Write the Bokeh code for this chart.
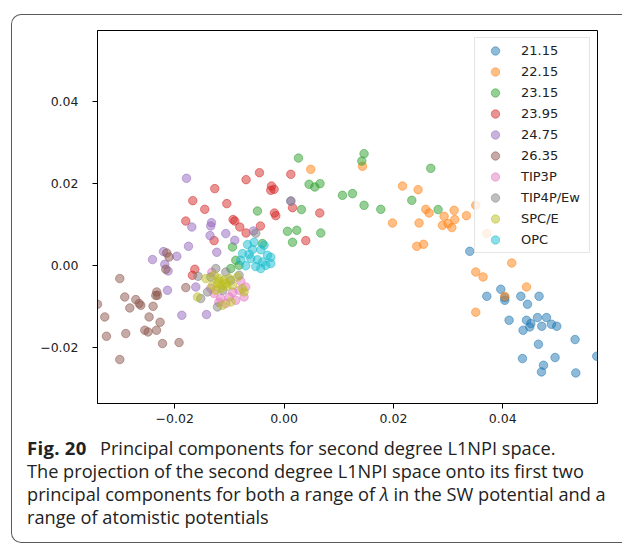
from bokeh.plotting import figure
from bokeh.layouts import column
from bokeh.models import Range1d, FixedTicker, CustomJSTickFormatter, Div, InlineStyleSheet
from bokeh.embed import file_html
from bokeh.resources import INLINE

# ---------------- data (PC1, PC2) ----------------
series_names = ["21.15", "22.15", "23.15", "23.95", "24.75", "26.35",
                "TIP3P", "TIP4P/Ew", "SPC/E", "OPC"]
colors = ["#1f77b4", "#ff7f0e", "#2ca02c", "#d62728", "#9467bd",
          "#8c564b", "#e377c2", "#7f7f7f", "#bcbd22", "#17becf"]

x_2115 = [0.03397, 0.03964, 0.03708, 0.04037, 0.04037, 0.04330, 0.04664, 0.04452, 0.04116,
          0.04434, 0.04635, 0.04800, 0.04513, 0.04494, 0.04714, 0.04891, 0.04988, 0.04372,
          0.05323, 0.04653, 0.05720, 0.04361, 0.04957, 0.04745, 0.04708, 0.05336]
y_2115 = [0.00341, -0.00585, -0.00756, -0.00788, -0.00854, -0.00756, -0.00756, -0.00951, -0.01341,
          -0.01341, -0.01276, -0.01276, -0.01422, -0.01505, -0.01488, -0.01439, -0.01488, -0.01585,
          -0.01812, -0.01927, -0.02220, -0.02276, -0.02251, -0.02439, -0.02602, -0.02627]

x_2215 = [0.00488, 0.01434, 0.02166, 0.02451, 0.02592, 0.03110, 0.03506, 0.01983, 0.02469,
          0.02652, 0.02927, 0.03122, 0.02897, 0.03000, 0.03068, 0.03336, 0.02427, 0.02550,
          0.03708, 0.04165, 0.03506, 0.03640, 0.04434, 0.04037, 0.03506]
y_2215 = [0.02341, 0.02415, 0.01934, 0.01846, 0.01366, 0.01341, 0.01463, 0.01032, 0.01032,
          0.01276, 0.01195, 0.01115, 0.00976, 0.01017, 0.00920, 0.01212, 0.00463, 0.00512,
          0.00773, 0.00056, -0.00163, -0.00285, -0.00529, -0.00756, -0.01146]

x_2315 = [0.00263, 0.00457, 0.00562, 0.00658, 0.01068, 0.01251, 0.01463, 0.01421, 0.02683,
          0.01463, 0.01769, 0.02336, 0.02817, -0.00487, 0.00318, 0.00062, 0.00232, 0.00671,
          0.00154, -0.00395, -0.00944, -0.00883, -0.00975, -0.00823]
y_2315 = [0.02617, 0.01976, 0.01910, 0.01993, 0.01707, 0.01749, 0.02724, 0.02544, 0.02366,
          0.01463, 0.01366, 0.01585, 0.01359, 0.01324, 0.01359, 0.00829, 0.00854, 0.00788,
          0.00561, 0.00529, 0.00446, 0.00122, -0.00080, 0.00000]

x_2395 = [-0.00450, -0.00695, -0.01268, -0.00230, -0.00243, -0.00183, 0.00123, -0.01670,
          -0.01048, -0.01451, -0.00176, -0.00152, 0.00154, 0.00653, -0.01798, -0.00933,
          -0.00902, -0.00810, -0.00432, -0.00695, 0.00397, -0.01280, -0.01633, -0.01676]
y_2395 = [0.02261, 0.02090, 0.01871, 0.01934, 0.01829, 0.01854, 0.02220, 0.01578,
          0.01505, 0.01366, 0.01276, 0.01212, 0.01407, 0.01276, 0.01080, 0.01115,
          0.01080, 0.00934, 0.00959, 0.00788, 0.00602, 0.00602, -0.00098, -0.00244]

x_2475 = [-0.01785, -0.01688, -0.01328, -0.01341, -0.01354, -0.01066, -0.00902, -0.01749,
          -0.01231, -0.02206, -0.01963, -0.02407, -0.02182, -0.02122, -0.02133, -0.01615,
          -0.01871, -0.01419, 0.00123, -0.00560]
y_2475 = [0.02122, 0.00934, 0.01041, 0.00959, 0.00724, 0.00773, 0.00610, 0.00463,
          0.00317, 0.00334, 0.00220, 0.00139, 0.00024, -0.00139, -0.00610, -0.00529,
          -0.01220, -0.01202, 0.01568, 0.00837]

x_2635 = [-0.02146, -0.02104, -0.02164, -0.03005, -0.01798, -0.02329, -0.02316, -0.02347,
          -0.02914, -0.02713, -0.02652, -0.02621, -0.03413, -0.02822, -0.02396, -0.03280,
          -0.02469, -0.02268, -0.02548, -0.02488, -0.02334, -0.03249, -0.02896, -0.02224,
          -0.01921, -0.03005]
y_2635 = [0.00300, 0.00202, -0.00098, -0.00324, -0.00544, -0.00651, -0.00732, -0.00739,
          -0.00773, -0.00837, -0.00934, -0.00976, -0.00951, -0.01041, -0.01000, -0.01261,
          -0.01261, -0.01390, -0.01585, -0.01627, -0.01585, -0.01732, -0.01666, -0.01910,
          -0.01885, -0.02300]

x_tip3p = [-0.00823, -0.00732, -0.01006, -0.01158, -0.01280, -0.00883, -0.01066, -0.00701,
           -0.00938, -0.01341, -0.01194, -0.01322, -0.00792]
y_tip3p = [-0.00610, -0.00773, -0.00773, -0.00812, -0.00690, -0.00854, -0.00934, -0.00529,
           -0.00659, -0.00561, -0.00902, -0.00171, -0.00390]

x_tip4p = [-0.01249, -0.01341, -0.01401, -0.01524, -0.01218, -0.01066, -0.00823, -0.01573,
           0.00123, -0.00518, -0.01121, -0.00975]
y_tip4p = [-0.00080, -0.00285, -0.00651, -0.00812, -0.01017, -0.00163, -0.00244, -0.00268,
           0.01568, 0.00780, -0.00610, -0.00366]

x_spce = [-0.01280, -0.01189, -0.01098, -0.01218, -0.01127, -0.01310, -0.01066, -0.01006,
          -0.01158, -0.01249, -0.00944, -0.00732, -0.01432, -0.01584, -0.00852, -0.01127,
          -0.00975, -0.00761, -0.01194, -0.01048]
y_spce = [-0.00244, -0.00324, -0.00366, -0.00446, -0.00488, -0.00488, -0.00446, -0.00324,
          -0.00568, -0.00610, -0.00488, -0.00651, -0.00324, -0.00773, -0.00285, -0.00976,
          -0.00895, -0.00568, -0.00390, -0.00512]

x_opc = [-0.00669, -0.00549, -0.00366, -0.00578, -0.00426, -0.00761, -0.00640, -0.00304,
         -0.00243, -0.00609, -0.00487, -0.00390, -0.00243, -0.00792, -0.00701, -0.00518,
         -0.00426, -0.00335]
y_opc = [0.00505, 0.00561, 0.00488, 0.00383, 0.00378, 0.00285, 0.00268, 0.00244,
         0.00195, 0.00163, 0.00134, 0.00080, 0.00041, 0.00122, -0.00012, -0.00032,
         -0.00080, 0.00000]

x_ticks = [-0.02, 0.0, 0.02, 0.04]
y_ticks = [-0.02, 0.0, 0.02, 0.04]

caption_bold = "Fig. 20"
caption_lines = [
    "Principal components for second degree L1NPI space.",
    "The projection of the second degree L1NPI space onto its first two",
    "principal components for both a range of <i>\u03bb</i> in the SW potential and a",
    "range of atomistic potentials",
]

all_x = [x_2115, x_2215, x_2315, x_2395, x_2475, x_2635, x_tip3p, x_tip4p, x_spce, x_opc]
all_y = [y_2115, y_2215, y_2315, y_2395, y_2475, y_2635, y_tip3p, y_tip4p, y_spce, y_opc]

# ---------------- figure ----------------
p = figure(width=622, height=432, output_backend="svg", toolbar_location=None,
           x_range=Range1d(-0.03413, 0.05733), y_range=Range1d(-0.03373, 0.0573))
p.min_border_left = 97
p.min_border_right = 25
p.min_border_top = 30
p.min_border_bottom = 29
p.background_fill_color = "white"
p.border_fill_color = None
p.background_fill_alpha = 1.0
p.outline_line_color = "black"
p.outline_line_width = 1
p.grid.visible = False

for xs, ys, name, c in zip(all_x, all_y, series_names, colors):
    p.scatter(xs, ys, size=8.5, marker="circle", fill_color=c, line_color=c,
              fill_alpha=0.5, line_alpha=0.5, line_width=1, legend_label=name)

fmt = CustomJSTickFormatter(code="return (tick < -1e-9 ? '\u2212' : '') + Math.abs(tick).toFixed(2);")
for ax, ticks in ((p.xaxis, x_ticks), (p.yaxis, y_ticks)):
    ax.ticker = FixedTicker(ticks=ticks)
    ax.formatter = fmt
    ax.major_tick_out = 5
    ax.major_tick_in = 0
    ax.minor_tick_out = 0
    ax.minor_tick_in = 0
    ax.axis_line_color = "black"
    ax.major_tick_line_color = "black"
    ax.major_label_text_font = "DejaVu Sans"
    ax.major_label_text_font_size = "12.5px"
    ax.major_label_text_color = "#222222"
p.xaxis.major_label_standoff = 5
p.yaxis.major_label_standoff = 14

lg = p.legend[0]
lg.location = "top_right"
lg.margin = 7
lg.padding = 2
lg.spacing = 0
lg.glyph_width = 36
lg.glyph_height = 21
lg.label_height = 21
lg.label_width = 66
lg.label_standoff = 8
lg.label_text_font = "DejaVu Sans"
lg.label_text_font_size = "13px"
lg.label_text_color = "#222222"
lg.border_line_color = "#cccccc"
lg.border_line_width = 1
lg.background_fill_color = "white"
lg.background_fill_alpha = 0.8

# ---------------- caption ----------------
html = (
    '<div style="font-family: \'Open Sans\', sans-serif; font-size: 18.2px; line-height: 23px; '
    'color: #222222; padding: 4px 0 0 27px; white-space: nowrap;">'
    '<span style="display: inline-block; width: 73px; font-weight: bold; font-size: 18.5px; '
    'letter-spacing: 0.3px;">'
    + caption_bold + '</span>' + caption_lines[0] + '<br>'
    + '<br>'.join(caption_lines[1:]) + '</div>'
)
cap = Div(text=html, width=622, height=112, margin=0)

box_css = InlineStyleSheet(css="""
:host { position: relative; }
:host::after {
  content: ""; position: absolute; left: 11px; top: 14px; right: 0px; bottom: 1px;
  border: 1.5px solid #5a5a5a; border-right: none; border-radius: 10px 0 0 10px;
  pointer-events: none; box-sizing: border-box;
}
""")
layout = column(p, cap, spacing=0, stylesheets=[box_css])

open("out.html", "w").write(file_html(layout, INLINE))
